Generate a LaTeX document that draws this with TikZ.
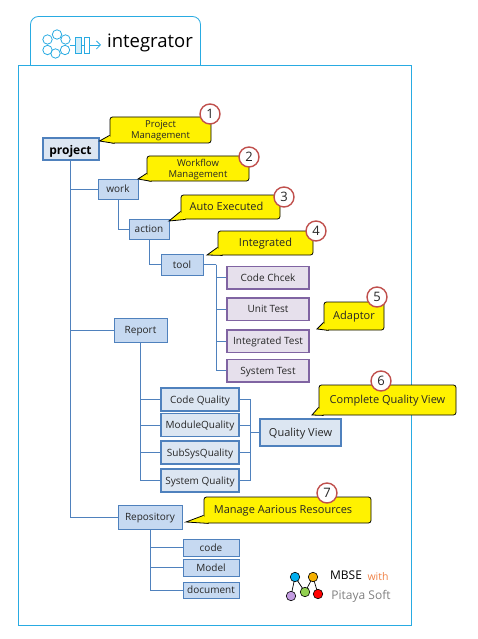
\documentclass[tikz,border=0pt]{standalone}
\usepackage{fontspec}
\setmainfont{Open Sans}
\usetikzlibrary{arrows.meta}

\definecolor{framecyan}{HTML}{29ABE2}
\definecolor{boxline}{HTML}{4F81BD}
\definecolor{boxfill}{HTML}{C6D9F1}
\definecolor{palefill}{HTML}{DCE6F2}
\definecolor{testline}{HTML}{8064A2}
\definecolor{testfill}{HTML}{E6E0EC}
\definecolor{badgeline}{HTML}{C0504D}

\tikzset{
	txt/.style={font=\fontsize{#1}{11}\selectfont, text=black!85},
	boxtext/.style={txt=10, text height=7.5pt, text depth=0pt},
	stepbox/.style={draw=boxline, fill=boxfill, line width=0.9pt, inner sep=0pt, boxtext},
	qualitybox/.style={draw=boxline, fill=palefill, line width=1.7pt, inner sep=0pt, minimum width=78pt, minimum height=23pt, boxtext},
	testbox/.style={draw=testline, fill=testfill, line width=1.5pt, inner sep=0pt, minimum width=82pt, minimum height=22.5pt, boxtext},
	note/.style={draw=black, fill=yellow, line width=0.8pt, rounded corners=2.5pt, inner sep=0pt, align=center, txt=11, text depth=0pt},
	oneline/.style={text height=7pt},
	notetip/.style={draw=black, fill=yellow, line width=0.8pt},
	badge/.style={circle, draw=badgeline, fill=white, line width=1.4pt, minimum size=20pt, inner sep=0pt, txt=13},
	link/.style={draw=boxline, line width=0.9pt},
	icon/.style={draw=framecyan, line width=0.8pt},
	dot/.style={circle, draw=black, line width=0.6pt, minimum size=9.5pt, inner sep=0pt}
}

\begin{document}
\begin{tikzpicture}[x=1pt, y=-1pt]
	\useasboundingbox (0,0) rectangle (478,639);

	\draw[draw=framecyan, line width=0.8pt, rounded corners=8pt] (30.5,65.5) -- (30.5,16.5) -- (200.5,16.5) -- (200.5,65.5);
	\draw[draw=framecyan, line width=0.8pt] (18.5,65.5) rectangle (411.5,625.5);

	\draw[icon] (57,34.5) circle (4.7);
	\draw[icon] (65.5,39.5) circle (4.7);
	\draw[icon] (65,50) circle (4.7);
	\draw[icon] (55.5,53.5) circle (4.7);
	\draw[icon] (47.5,50) circle (4.7);
	\draw[icon] (47.5,39.5) circle (4.7);
	\draw[icon] (70,45) -- (75,45);
	\draw[icon, fill=framecyan!20] (75.5,37.5) rectangle (81,53);
	\draw[icon] (81,45) -- (84,45);
	\draw[icon] (84.5,37.5) rectangle (89,53);
	\draw[icon, -{Straight Barb[length=4pt, width=8pt]}] (89,45) -- (101,45);
	\node[font=\fontsize{18.5}{22}\selectfont, text=black] (title) at (150,43) {integrator};

	\node[draw=boxline, fill=palefill, line width=2pt, inner sep=0pt, minimum width=56pt, minimum height=22pt, font=\fontsize{12}{14}\selectfont\bfseries, text height=11pt, text depth=0pt] (project) at (70.5,149.5) {project};
	\node[stepbox, minimum width=40pt, minimum height=20pt] (work) at (118,189) {work};
	\node[stepbox, minimum width=40pt, minimum height=20pt] (action) at (149,229) {action};
	\node[stepbox, minimum width=42pt, minimum height=21pt] (tool) at (182,264.5) {tool};
	\node[stepbox, minimum width=53pt, minimum height=24pt] (report) at (140.5,330) {Report};
	\node[stepbox, minimum width=64pt, minimum height=24pt] (repository) at (150,517) {Repository};

	\node[testbox] (codecheck) at (268,277.5) {Code Chcek};
	\node[testbox] (unittest) at (268,309) {Unit Test};
	\node[testbox] (integratedtest) at (268,341) {Integrated Test};
	\node[testbox] (systemtest) at (268,370.5) {System Test};

	\node[qualitybox] (codequality) at (200,399.5) {Code Quality};
	\node[qualitybox] (modulequality) at (200,425) {ModuleQuality};
	\node[qualitybox] (subsysquality) at (200,452.5) {SubSysQuality};
	\node[qualitybox] (systemquality) at (200,480.5) {System Quality};
	\node[qualitybox, minimum width=81pt, minimum height=27pt, txt=11] (qualityview) at (300.5,432.5) {Quality View};

	\node[stepbox, minimum width=56pt, minimum height=17pt] (code) at (211,547.5) {code};
	\node[stepbox, minimum width=56pt, minimum height=17pt] (model) at (211,567.5) {Model};
	\node[stepbox, minimum width=56pt, minimum height=16pt] (document) at (211,590) {document};

	\coordinate (testbus) at (216,264.5);
	\coordinate (qualitybus) at (250,432.5);

	\draw[link] (project.south) |- (work.west);
	\draw[link] (project.south) |- (report.west);
	\draw[link] (project.south) |- (repository.west);
	\draw[link] (work.south) |- (action.west);
	\draw[link] (action.south) |- (tool.west);
	\draw[link] (tool.east) -- (testbus);
	\draw[link] (testbus) |- (codecheck.west);
	\draw[link] (testbus) |- (unittest.west);
	\draw[link] (testbus) |- (integratedtest.west);
	\draw[link] (testbus) |- (systemtest.west);
	\draw[link] (report.south) |- (codequality.west);
	\draw[link] (report.south) |- (modulequality.west);
	\draw[link] (report.south) |- (subsysquality.west);
	\draw[link] (report.south) |- (systemquality.west);
	\draw[link] (qualityview.west) -- (qualitybus);
	\draw[link] (qualitybus) |- (codequality.east);
	\draw[link] (qualitybus) |- (modulequality.east);
	\draw[link] (qualitybus) |- (subsysquality.east);
	\draw[link] (qualitybus) |- (systemquality.east);
	\draw[link] (repository.south) |- (code.west);
	\draw[link] (repository.south) |- (model.west);
	\draw[link] (repository.south) |- (document.west);

	\node[note, minimum width=101pt, minimum height=26pt, txt=9.5] (note1) at (160.5,130) {Project\\Management};
	\node[note, minimum width=102pt, minimum height=25pt, txt=9.5] (note2) at (198,168.5) {Workflow\\Management};
	\node[note, oneline, minimum width=99pt, minimum height=24pt] (note3) at (230.5,207) {Auto Executed\hspace{8pt}};
	\node[note, oneline, minimum width=95pt, minimum height=24pt] (note4) at (265.5,243) {Integrated};
	\node[note, oneline, minimum width=60pt, minimum height=28pt] (note5) at (354,316) {Adaptor};
	\node[note, oneline, minimum width=137pt, minimum height=30pt] (note6) at (387.5,400) {Complete Quality View};
	\node[note, oneline, minimum width=167pt, minimum height=26pt] (note7) at (287.5,510) {Manage Aarious Resources\hspace{9pt}};

	\coordinate (tip1) at (99.5,141);
	\coordinate (tip2) at (138,179);
	\coordinate (tip3) at (169,221);
	\coordinate (tip4) at (207,255);
	\coordinate (tip5) at (317,329);
	\coordinate (tip6) at (312,415);
	\coordinate (tip7) at (186,522);
	\draw[notetip] ([yshift=8pt]note1.south west) -- (tip1) -- ([xshift=5pt]note1.south west);
	\draw[notetip] ([yshift=8pt]note2.south west) -- (tip2) -- ([xshift=5pt]note2.south west);
	\draw[notetip] ([yshift=8pt]note3.south west) -- (tip3) -- ([xshift=5pt]note3.south west);
	\draw[notetip] ([yshift=8pt]note4.south west) -- (tip4) -- ([xshift=5pt]note4.south west);
	\draw[notetip] ([yshift=8pt]note5.south west) -- (tip5) -- ([xshift=5pt]note5.south west);
	\draw[notetip] ([yshift=8pt]note6.south west) -- (tip6) -- ([xshift=5pt]note6.south west);
	\draw[notetip] ([yshift=8pt]note7.south west) -- (tip7) -- ([xshift=5pt]note7.south west);

	\node[badge] (badge1) at (210,114) {1};
	\node[badge] (badge2) at (249,157) {2};
	\node[badge] (badge3) at (284,197) {3};
	\node[badge] (badge4) at (316,231) {4};
	\node[badge] (badge5) at (377,297) {5};
	\node[badge] (badge6) at (381,381) {6};
	\node[badge] (badge7) at (327,493) {7};

	\draw[line width=0.7pt] (291,596) -- (295,577) -- (305,592) -- (313,577) -- (318,594);
	\node[dot, fill={rgb,255:red,0;green,174;blue,239}] (dotblue) at (295,577) {};
	\node[dot, fill={rgb,255:red,245;green,176;blue,0}] (dotorange) at (313,577) {};
	\node[dot, fill={rgb,255:red,195;green,155;blue,225}] (dotpurple) at (291,596) {};
	\node[dot, fill={rgb,255:red,146;green,208;blue,80}] (dotgreen) at (305,592) {};
	\node[dot, fill=red] (dotred) at (318,594) {};
	\node[txt=12, text=black, inner sep=0pt] (mbse) at (346,575.5) {MBSE};
	\node[txt=10.5, text={rgb,255:red,240;green,130;blue,70}, inner sep=0pt] (with) at (378,576.5) {with};
	\node[txt=12, text=gray, inner sep=0pt] (pitaya) at (361,596) {Pitaya Soft};
\end{tikzpicture}
\end{document}
